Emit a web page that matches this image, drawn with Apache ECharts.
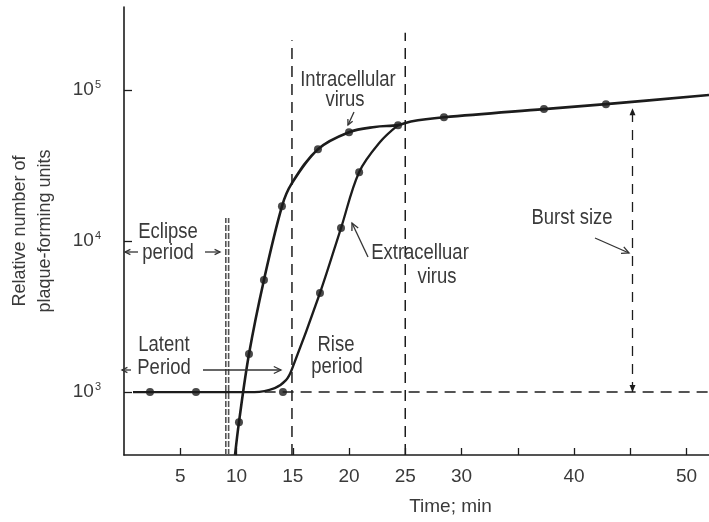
<!DOCTYPE html>
<html><head><meta charset="utf-8">
<script src="https://cdn.jsdelivr.net/npm/echarts@6/dist/echarts.min.js"></script>
<style>html,body{margin:0;padding:0;background:#fff}#c{width:709px;height:522px}</style>
</head><body><div id="c"></div>
<script>
// ---- axis ticks / labels ----
const xTicks = [5, 10, 15, 20, 25, 30, 35, 40, 45, 50];
const xLabels = [5, 10, 15, 20, 25, 30, 40, 50];
const yTicks = [1000, 10000, 100000];

// ---- intracellular virus (time min, PFU) ----
const intraTime = [9.87, 10.22, 11.11, 12.44, 14.04, 14.9, 17.24, 20.0, 22.3, 24.36, 25.5, 28.44, 37.33, 42.84, 52.0];
const intraPfu  = [383, 632, 1785, 5530, 17000, 24000, 40600, 52600, 57000, 58600, 62000, 66000, 74800, 80700, 92700];
const intraDotTime = [10.22, 11.11, 12.44, 14.04, 17.24, 20.0, 24.36, 28.44, 37.33, 42.84];
const intraDotPfu  = [632, 1785, 5530, 17000, 40600, 52600, 58600, 66000, 74800, 80700];

// ---- extracellular virus ----
const extraTime = [0.8, 2.31, 6.4, 11.6, 13.4, 14.4, 14.9, 17.42, 19.29, 20.9, 22.76, 24.36];
const extraPfu  = [1000, 1000, 1000, 1000, 1063, 1200, 1400, 4530, 12200, 28600, 45300, 58600];
const extraDotTime = [2.31, 6.4, 14.13, 17.42, 19.29, 20.9];
const extraDotPfu  = [1000, 1000, 1000, 4530, 12200, 28600];

// ---- reference lines ----
const eclipseTimes = [9.05, 9.3];
const eclipseTop = 14200;
const riseStartTime = 14.93, riseStartTop = 214000;
const riseEndTime = 25.0, riseEndTop = 240000;
const baselinePfu = 1000, baselineFrom = 12.5, baselineTo = 52;
const burstTime = 45.2, burstTop = 75700;

const yMin = 383, yMax = 355000, xMax = 52;
const FONT = '"Liberation Sans Narrow", "Arial Narrow", "Liberation Sans", sans-serif';
const INK = '#1c1c1c', TXT = '#3a3a3a';

function pairs(xs, ys) { return xs.map((x, i) => [x, ys[i]]); }

const chart = echarts.init(document.getElementById('c'), null, { renderer: 'canvas' });

const dashed = { color: INK, width: 1.5, type: [11, 7] };
function vline(t, top, style) { return { type: 'line', data: [[t, yMin], [t, top]], symbol: 'none', lineStyle: style, silent: true, z: 1 }; }

const series = [
  ...eclipseTimes.map(t => vline(t, eclipseTop, { color: '#555', width: 1.6, type: [6, 2] })),
  vline(riseStartTime, riseStartTop, dashed),
  vline(riseEndTime, riseEndTop, dashed),
  { type: 'line', data: [[baselineFrom, baselinePfu], [baselineTo, baselinePfu]], symbol: 'none', lineStyle: dashed, silent: true, z: 1 },
  { type: 'line', data: [[burstTime, baselinePfu], [burstTime, burstTop]], symbol: 'none', lineStyle: { color: INK, width: 1.3, type: [10, 8] }, silent: true, z: 1 },
  { name: 'Intracellular virus', type: 'line', data: pairs(intraTime, intraPfu), smooth: 0.35, symbol: 'none', lineStyle: { color: INK, width: 2.6 }, z: 3 },
  { name: 'Extracellular virus', type: 'line', data: pairs(extraTime, extraPfu), smooth: 0.35, symbol: 'none', lineStyle: { color: INK, width: 2.3 }, z: 3 },
  { type: 'scatter', data: pairs(intraDotTime, intraDotPfu), symbolSize: 8, itemStyle: { color: INK }, z: 4 },
  { type: 'scatter', data: pairs(extraDotTime, extraDotPfu), symbolSize: 8, itemStyle: { color: INK }, z: 4 }
];

chart.setOption({
  backgroundColor: '#fff',
  animation: false,
  grid: { left: 124, right: 0, top: 7, bottom: 67, containLabel: false, outerBoundsMode: 'none' },
  xAxis: {
    type: 'value', min: 0, max: xMax,
    name: 'Time; min', nameLocation: 'middle', nameGap: 42,
    nameTextStyle: { fontFamily: FONT, fontSize: 19, color: TXT, padding: [0, 0, 0, 68] },
    axisLine: { lineStyle: { color: INK, width: 1.6 } },
    axisTick: { inside: true, length: 7, customValues: xTicks, lineStyle: { color: INK, width: 1.3 } },
    axisLabel: { customValues: xLabels, margin: 12, fontFamily: FONT, fontSize: 19, color: TXT },
    splitLine: { show: false }
  },
  yAxis: {
    type: 'log', logBase: 10, min: yMin, max: yMax,
    name: 'Relative number of\nplaque-forming units', nameLocation: 'middle', nameGap: 66, nameRotate: 90,
    nameTextStyle: { fontFamily: FONT, fontSize: 18, color: TXT, lineHeight: 25, padding: [0, 0, 0, 0] },
    axisLine: { show: true, lineStyle: { color: INK, width: 1.6 } },
    axisTick: { inside: true, length: 8, customValues: yTicks, lineStyle: { color: INK, width: 1.3 } },
    axisLabel: {
      customValues: yTicks, margin: 23,
      formatter: v => '{b|10}{s|' + Math.round(Math.log10(v)) + '}',
      rich: {
        b: { fontFamily: FONT, fontSize: 19, color: TXT },
        s: { fontFamily: FONT, fontSize: 11, color: TXT, verticalAlign: 'top', padding: [0, 0, 10, 1] }
      }
    },
    splitLine: { show: false }
  },
  series
});

// ---- annotations ----
function txt(t, x, y) {
  return { type: 'text', x: x, y: y, scaleX: 0.84, style: { text: t, x: 0, y: 0, fill: TXT, font: '22px ' + FONT, align: 'center', verticalAlign: 'middle', textAlign: 'center', textVerticalAlign: 'middle' }, z: 10 };
}
function arrow(x1, y1, x2, y2, head) {
  head = head || 7;
  const a = Math.atan2(y2 - y1, x2 - x1), s = 0.45;
  const p1 = [x2 - head * Math.cos(a - s), y2 - head * Math.sin(a - s)];
  const p2 = [x2 - head * Math.cos(a + s), y2 - head * Math.sin(a + s)];
  const st = { stroke: '#333', lineWidth: 1.3, fill: null };
  return [
    { type: 'line', shape: { x1, y1, x2, y2 }, style: st, z: 10 },
    { type: 'polyline', shape: { points: [p1, [x2, y2], p2] }, style: st, z: 10 }
  ];
}
function tri(x, y, dir) {
  const h = 7 * dir;
  return { type: 'polygon', shape: { points: [[x - 3, y + h], [x, y], [x + 3, y + h]] }, style: { fill: INK }, z: 10 };
}

const elements = [
  txt('Intracellular', 348, 80), txt('virus', 345, 100),
  txt('Eclipse', 168, 232), txt('period', 168, 253),
  txt('Latent', 164, 345), txt('Period', 164, 368),
  txt('Rise', 336, 345), txt('period', 337, 367),
  txt('Extracelluar', 420, 253), txt('virus', 437, 277),
  txt('Burst size', 572, 218),
  ...arrow(354, 112, 348, 125, 6),
  ...arrow(138, 252, 125, 252, 6), ...arrow(205, 252, 220, 252, 6),
  ...arrow(131, 370, 122, 370, 6), ...arrow(203, 370, 281, 370, 8),
  ...arrow(368, 257, 352, 223, 8),
  ...arrow(595, 238, 629, 253, 8)
];
const bTop = chart.convertToPixel({ gridIndex: 0 }, [burstTime, burstTop]);
const bBot = chart.convertToPixel({ gridIndex: 0 }, [burstTime, baselinePfu]);
elements.push(tri(bTop[0], bTop[1], 1), tri(bBot[0], bBot[1], -1));
chart.setOption({ graphic: { elements } });
</script>
</body></html>
